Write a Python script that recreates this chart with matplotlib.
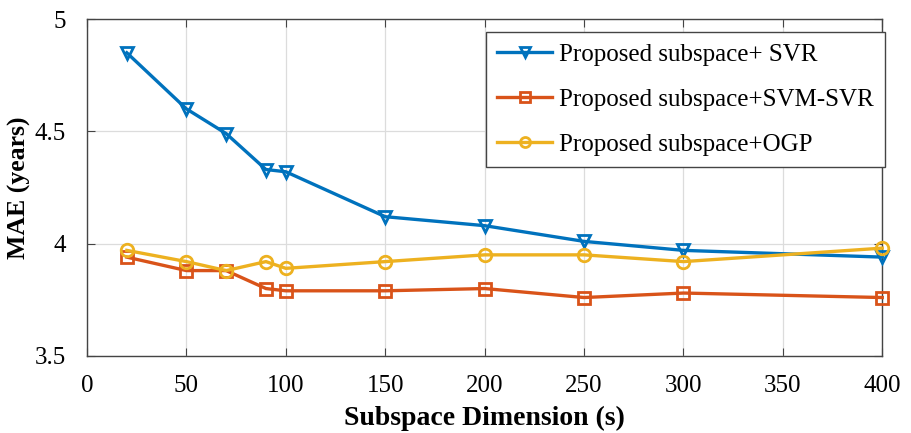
import numpy as np
import matplotlib.pyplot as plt

plt.rcParams['font.family'] = ['Liberation Serif', 'DejaVu Serif']

dims = [20, 50, 70, 90, 100, 150, 200, 250, 300, 400]
svr = [4.85, 4.60, 4.49, 4.33, 4.32, 4.12, 4.08, 4.01, 3.97, 3.94]
svm_svr = [3.94, 3.88, 3.88, 3.80, 3.79, 3.79, 3.80, 3.76, 3.78, 3.76]
ogp = [3.97, 3.92, 3.88, 3.92, 3.89, 3.92, 3.95, 3.95, 3.92, 3.98]

labels = ['Proposed subspace+ SVR', 'Proposed subspace+SVM-SVR', 'Proposed subspace+OGP']
colors = ['#0072BD', '#D95319', '#EDB120']
markers = ['v', 's', 'o']

fig = plt.figure(figsize=(9.12, 4.33), dpi=100)
ax = fig.add_axes([0.0954, 0.178, 0.872, 0.778])

for ys, lab, c, m in zip([svr, svm_svr, ogp], labels, colors, markers):
    ax.plot(dims, ys, color=c, marker=m, markersize=9, markerfacecolor='none',
            markeredgewidth=2, linewidth=2.4, label=lab, clip_on=False, zorder=3)

ax.set_xlim(0, 400)
ax.set_ylim(3.5, 5)
ax.set_xticks(np.arange(0, 401, 50))
ax.set_yticks([3.5, 4, 4.5, 5])
ax.set_yticklabels(['3.5', '4', '4.5', '5'])
ax.grid(True, color='#dcdcdc', linewidth=0.9)
ax.set_axisbelow(True)
ax.tick_params(direction='in', top=True, right=True, labelsize=18, length=6, color='#444444')
ax.tick_params(axis='x', pad=14)
ax.tick_params(axis='y', pad=15)
for s in ax.spines.values():
    s.set_color('#444444')
    s.set_linewidth(1.0)

ax.set_xlabel('Subspace Dimension (s)', fontsize=20, fontweight='bold', labelpad=6)
ax.set_ylabel('MAE (years)', fontsize=18.5, fontweight='bold', labelpad=3)

leg = ax.legend(loc='upper right', bbox_to_anchor=(1.003, 0.962), fontsize=18, fancybox=False,
                framealpha=1, edgecolor='#444444', handlelength=2.2, borderaxespad=0,
                borderpad=0.45, labelspacing=0.9, handletextpad=0.25, markerscale=0.8)
leg.get_frame().set_linewidth(1.0)

plt.savefig('out.png', dpi=100)
